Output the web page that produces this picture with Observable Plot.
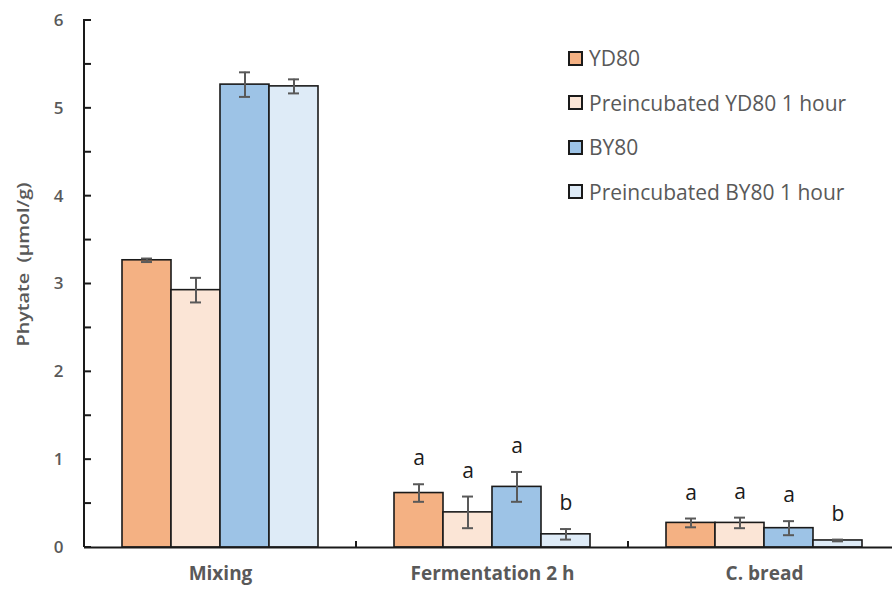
<!DOCTYPE html>
<html><head><meta charset="utf-8">
<script src="https://cdn.jsdelivr.net/npm/d3@7"></script>
<script src="https://cdn.jsdelivr.net/npm/@observablehq/plot@0.6"></script>
<style>
body{margin:0;background:#fff;}
#wrap{position:relative;width:892px;height:591px;font-family:"Open Sans", sans-serif;}
#legend{position:absolute;left:568px;top:36px;}
.item{display:flex;align-items:center;height:44.5px;font-size:21px;color:#595959;white-space:nowrap;}
.sw{width:11px;height:11px;border:2px solid #1a1a1a;margin-right:6px;flex:none;}
</style></head><body><div id="wrap"><div id="legend"></div></div>
<script>
const categories = ["Mixing", "Fermentation 2 h", "C. bread"];
const series = ["YD80", "Preincubated YD80 1 hour", "BY80", "Preincubated BY80 1 hour"];
const colors = ["#F4B183", "#FBE5D6", "#9DC3E6", "#DEEBF7"];
// values per category (Mixing, Fermentation 2 h, C. bread)
const yd80 = [3.27, 0.62, 0.28];
const preYd80 = [2.93, 0.40, 0.28];
const by80 = [5.27, 0.69, 0.22];
const preBy80 = [5.25, 0.15, 0.08];
// error (± SD)
const yd80Err = [0.02, 0.10, 0.05];
const preYd80Err = [0.14, 0.18, 0.06];
const by80Err = [0.14, 0.17, 0.08];
const preBy80Err = [0.08, 0.06, 0.01];
// significance letters
const yd80Letters = ["", "a", "a"];
const preYd80Letters = ["", "a", "a"];
const by80Letters = ["", "a", "a"];
const preBy80Letters = ["", "b", "b"];
const yTicks = [0, 1, 2, 3, 4, 5, 6];
const yMinorTicks = [0, 0.5, 1, 1.5, 2, 2.5, 3, 3.5, 4, 4.5, 5, 5.5, 6];
const yLabel = "Phytate  (µmol/g)";

const vals = [yd80, preYd80, by80, preBy80];
const errs = [yd80Err, preYd80Err, by80Err, preBy80Err];
const lets = [yd80Letters, preYd80Letters, by80Letters, preBy80Letters];
const rows = [];
categories.forEach((c, i) => series.forEach((s, j) => rows.push({
  category: c, series: s, value: vals[j][i], err: errs[j][i], letter: lets[j][i]
})));

const gray = "#595959";
const font = "'Open Sans', sans-serif";
const plot = Plot.plot({
  width: 892, height: 591,
  marginLeft: 84, marginRight: -8, marginTop: 20, marginBottom: 44,
  style: {fontFamily: font, background: "transparent", fontSize: "16px"},
  fx: {domain: categories, padding: 0, label: null},
  x: {domain: series, paddingInner: 0, paddingOuter: 0.747, axis: null},
  y: {domain: [0, 6], axis: null},
  color: {domain: series, range: colors},
  marks: [
    Plot.barY(rows, {fx: "category", x: "series", y: "value", fill: "series", stroke: "#1a1a1a", strokeWidth: 1.6}),
    Plot.ruleX(rows, {fx: "category", x: "series", y1: d => d.value - d.err, y2: d => d.value + d.err, stroke: gray, strokeWidth: 2}),
    Plot.tickY(rows, {fx: "category", x: "series", y: d => d.value - d.err, stroke: gray, strokeWidth: 2, insetLeft: 19, insetRight: 19}),
    Plot.tickY(rows, {fx: "category", x: "series", y: d => d.value + d.err, stroke: gray, strokeWidth: 2, insetLeft: 19, insetRight: 19}),
    Plot.text(rows.filter(d => d.letter), {fx: "category", x: "series", y: d => d.value + d.err, text: "letter", lineAnchor: "bottom", dy: -19, fontSize: 21, fill: "#1a1a1a"}),
    Plot.ruleY([0], {stroke: "#1a1a1a", strokeWidth: 2}),
    Plot.axisY({ticks: yTicks, tickFormat: d => String(d), tickSize: 0, tickPadding: 21, fill: gray, label: null}),
    Plot.axisFx({anchor: "bottom", tickSize: 0, tickPadding: 19, fill: gray, label: null})
  ]
});
document.getElementById("wrap").prepend(plot);
const svg = d3.select(plot);
svg.selectAll("g[aria-label='y-axis tick label'] text").style("font-size", "17px").style("font-weight", 600);
svg.selectAll("g[aria-label='fx-axis tick label'] text").style("font-size", "19px").style("font-weight", 700);

// axis line, inward ticks, category separators, y label — placed via Plot's scales
const ys = plot.scale("y"), fxs = plot.scale("fx");
const x0 = fxs.apply(categories[0]);
const g = svg.append("g").attr("stroke", "#1a1a1a").attr("stroke-width", 2);
g.append("line").attr("x1", x0).attr("x2", x0).attr("y1", ys.apply(6) - 1).attr("y2", ys.apply(0));
yMinorTicks.forEach(v => g.append("line").attr("x1", x0).attr("x2", x0 + 7).attr("y1", ys.apply(v)).attr("y2", ys.apply(v)));
categories.slice(1).forEach(c => {
  const xx = fxs.apply(c);
  g.append("line").attr("x1", xx).attr("x2", xx).attr("y1", ys.apply(0)).attr("y2", ys.apply(0) - 6);
});
svg.append("text").attr("transform", `translate(29,${(ys.apply(0) + ys.apply(6)) / 2 - 19}) rotate(-90)`)
  .attr("text-anchor", "middle").attr("fill", gray).style("font-size", "17px").style("font-weight", 600)
  .attr("textLength", 164).attr("lengthAdjust", "spacingAndGlyphs")
  .attr("font-family", font).text(yLabel);

const legend = d3.select("#legend");
series.forEach((s, j) => {
  const it = legend.append("div").attr("class", "item");
  it.append("div").attr("class", "sw").style("background", colors[j]);
  it.append("span").text(s);
});
</script></body></html>
